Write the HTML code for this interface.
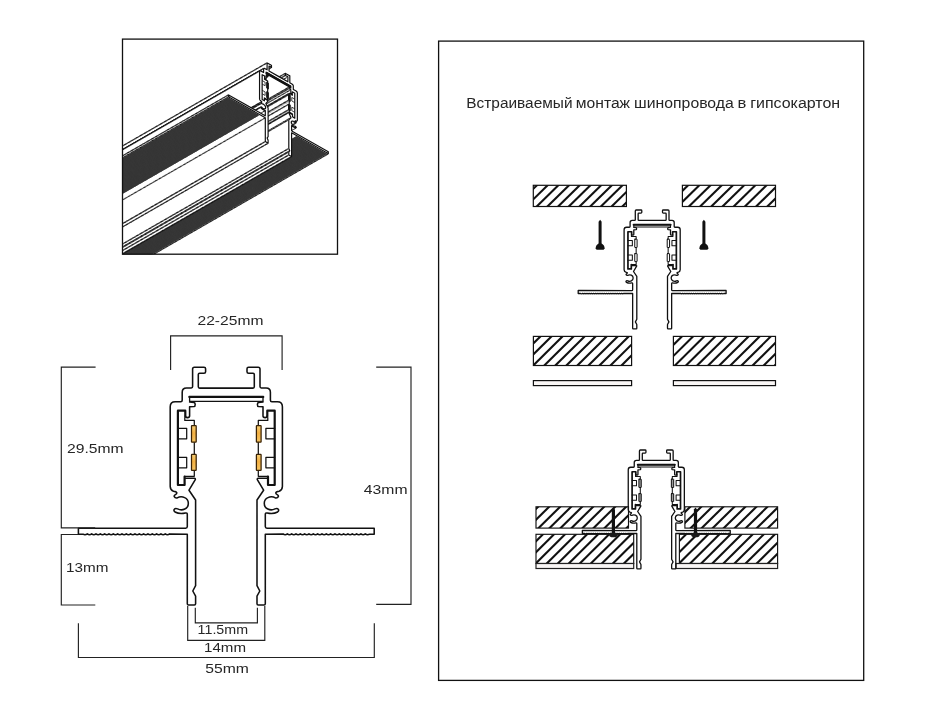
<!DOCTYPE html>
<html><head><meta charset="utf-8"><title>Profile</title>
<style>
html,body{margin:0;padding:0;background:#fff;}
svg{display:block;}
text{font-family:"Liberation Sans",sans-serif;fill:#262626;}
</style></head><body>
<svg width="925" height="720" viewBox="0 0 925 720">
<rect x="0" y="0" width="925" height="720" fill="#fff"/>
<rect x="438.6" y="41.1" width="425.1" height="639.3" fill="none" stroke="#111" stroke-width="1.3"/>
<clipPath id="isoclip"><rect x="122.5" y="39.1" width="215" height="215.1"/></clipPath>
<defs><g id="slab">
<path d="M229.15 97.23 L259.99 114.79 L258.23 115.81 L227.39 98.24Z" fill="#363636"/>
<path d="M296.92 135.84 L327.76 153.41 L326.00 154.42 L295.16 136.85Z" fill="#363636"/>
<path d="M269.02 71.00l-0.92 0.53 M269.02 66.04l-0.92 0.53 M271.48 67.44l-0.92 0.53 M271.48 65.40l-0.92 0.53 M267.10 62.90l-0.92 0.53 M267.10 69.83l-0.92 0.53 M264.24 68.36l-0.92 0.53 M263.96 68.40l-0.92 0.53 M263.76 68.57l-0.92 0.53 M263.60 72.46l-0.92 0.53 M260.30 70.77l-0.92 0.53 M259.97 70.82l-0.92 0.53 M259.74 71.01l-0.92 0.53 M261.78 102.31l-0.92 0.53 M260.76 102.27l-0.92 0.53 M261.17 103.41l-0.92 0.53 M264.89 108.41l-0.92 0.53 M261.03 106.94l-0.92 0.53 M260.90 107.00l-0.92 0.53 M260.63 107.32l-0.92 0.53 M265.31 110.59l-0.92 0.53 M265.31 115.85l-0.92 0.53 M228.61 94.91l-0.92 0.53 M228.61 96.92l-0.92 0.53 M265.31 117.83l-0.92 0.53 M265.31 141.55l-0.92 0.53 M268.11 143.14l-0.92 0.53 M268.11 140.16l-0.92 0.53 M267.17 137.91l-0.92 0.53 M268.11 136.67l-0.92 0.53 M268.11 107.96l-0.92 0.53 M265.89 103.41l-0.92 0.53 M268.01 101.07l-0.92 0.53 M268.11 100.69l-0.92 0.53 M264.40 98.58l-0.92 0.53 M264.40 100.83l-0.92 0.53 M262.15 99.54l-0.92 0.53 M262.15 74.65l-0.92 0.53 M264.64 76.07l-0.92 0.53 M264.67 78.40l-0.92 0.53 M266.09 79.21l-0.92 0.53 M266.09 75.59l-0.92 0.53 M267.98 76.56l-0.92 0.53 M267.98 75.26l-0.92 0.53 M266.09 73.98l-0.92 0.53 M266.09 72.17l-0.92 0.53 M290.82 86.27l-0.92 0.53 M290.82 88.07l-0.92 0.53 M288.94 87.20l-0.92 0.53 M288.94 88.51l-0.92 0.53 M290.82 89.68l-0.92 0.53 M290.82 93.30l-0.92 0.53 M292.24 94.11l-0.92 0.53 M292.27 91.81l-0.92 0.53 M294.77 93.24l-0.92 0.53 M294.77 118.13l-0.92 0.53 M292.51 116.84l-0.92 0.53 M292.51 114.60l-0.92 0.53 M288.80 112.48l-0.92 0.53 M291.03 117.74l-0.92 0.53 M288.80 119.75l-0.92 0.53 M288.80 148.46l-0.92 0.53 M289.75 150.78l-0.92 0.53 M288.80 151.95l-0.92 0.53 M288.80 154.93l-0.92 0.53 M291.60 156.52l-0.92 0.53 M291.60 132.80l-0.92 0.53 M328.30 153.71l-0.92 0.53 M328.30 151.70l-0.92 0.53 M291.60 130.83l-0.92 0.53 M291.60 125.57l-0.92 0.53 M296.28 127.63l-0.92 0.53 M292.02 121.55l-0.92 0.53 M295.75 123.11l-0.92 0.53 M296.15 122.43l-0.92 0.53 M295.14 121.32l-0.92 0.53 M295.14 120.98l-0.92 0.53 M295.18 120.89l-0.92 0.53 M295.28 120.84l-0.92 0.53 M296.84 121.09l-0.92 0.53 M297.05 120.97l-0.92 0.53 M293.32 89.40l-0.92 0.53 M289.81 82.78l-0.92 0.53 M289.81 75.84l-0.92 0.53 M285.43 73.34l-0.92 0.53 M285.43 75.39l-0.92 0.53 M287.89 76.79l-0.92 0.53 M287.89 81.75l-0.92 0.53 M262.15 74.65l-0.92 0.53 M264.64 76.07l-0.92 0.53 M264.47 79.22l-0.92 0.53 M267.67 81.05l-0.92 0.53 M267.67 99.77l-0.92 0.53 M264.40 97.91l-0.92 0.53 M264.40 100.83l-0.92 0.53 M262.15 99.54l-0.92 0.53 M294.77 118.13l-0.92 0.53 M292.51 116.84l-0.92 0.53 M292.51 113.93l-0.92 0.53 M289.24 112.06l-0.92 0.53 M289.24 93.34l-0.92 0.53 M292.44 95.16l-0.92 0.53 M292.27 91.81l-0.92 0.53 M294.77 93.24l-0.92 0.53 M266.09 72.17l-0.92 0.53 M290.82 86.27l-0.92 0.53 M290.82 87.84l-0.92 0.53 M266.09 73.75l-0.92 0.53 M266.73 82.25l-0.92 0.53 M268.31 83.16l-0.92 0.53 M268.31 88.72l-0.92 0.53 M266.73 87.81l-0.92 0.53 M288.60 94.71l-0.92 0.53 M290.18 95.62l-0.92 0.53 M290.18 101.18l-0.92 0.53 M288.60 100.27l-0.92 0.53 M266.73 91.90l-0.92 0.53 M268.31 92.80l-0.92 0.53 M268.31 98.16l-0.92 0.53 M266.73 97.26l-0.92 0.53 M288.60 104.36l-0.92 0.53 M290.18 105.26l-0.92 0.53 M290.18 110.62l-0.92 0.53 M288.60 109.72l-0.92 0.53" stroke="#111" stroke-width="1.30" fill="none" stroke-linecap="butt"/>
<path d="M278.46 76.37 L269.46 71.25 L269.02 71.00 L269.02 70.56 L269.02 66.44 L269.02 66.04 L269.43 66.27 L270.94 67.13 L271.48 67.44 L271.48 66.90 L271.48 65.93 L271.48 65.40 L270.94 65.09 L267.71 63.25 L267.10 62.90 L267.10 63.50 L267.10 69.40 L267.10 69.83 L266.66 69.58 L265.04 68.66 L264.60 68.45 L264.24 68.36 L263.96 68.40 L263.76 68.57 L263.64 68.86 L263.60 69.28 L263.60 71.96 L263.60 72.46 L263.09 72.17 L261.24 71.12 L260.72 70.87 L260.30 70.77 L259.97 70.82 L259.74 71.01 L259.60 71.35 L259.55 71.83 L259.55 98.56 L259.60 98.99 L259.70 99.40 L259.86 99.78 L260.08 100.14 L260.34 100.49 L260.66 100.81 L260.99 101.06 L261.27 101.28 L261.48 101.49 L261.64 101.67 L261.74 101.84 L261.78 101.98 L261.78 102.31 L261.30 102.28 L260.76 102.27 L260.93 102.74 L261.17 103.41 L261.91 103.73 L262.32 103.78 L262.75 103.91 L263.19 104.11 L263.61 104.37 L264.03 104.69 L264.41 105.06 L264.76 105.46 L265.07 105.89 L265.32 106.34 L265.51 106.79 L265.62 107.25 L265.65 107.70 L265.61 108.10 L265.50 108.41 L265.32 108.65 L265.08 108.82 L264.80 108.90 L264.47 108.92 L264.10 108.85 L263.71 108.72 L263.31 108.52 L262.89 108.24 L262.46 107.90 L262.05 107.49 L261.80 107.26 L261.57 107.09 L261.37 106.98 L261.19 106.93 L261.03 106.94 L260.90 107.00 L260.63 107.32 L261.17 108.03 L261.69 108.56 L262.23 109.03 L262.80 109.45 L263.40 109.81 L264.02 110.11 L264.67 110.36 L265.31 110.59 L265.31 111.26 L265.31 115.28 L265.31 115.85 L264.74 115.52 L228.61 94.91 L228.61 96.92 L230.16 97.80 L265.31 117.83 L265.31 141.14 L265.31 141.55 L265.72 141.78 L267.71 142.91 L268.11 143.14 L268.11 142.74 L268.11 140.16 L267.17 137.91 L268.11 136.67 L268.11 107.96 L265.89 103.41 L268.01 101.07 L268.11 100.69 L267.71 100.46 L264.74 98.77 L264.40 98.58 L264.40 100.83 L262.15 99.54 L262.15 74.65 L264.64 76.07 L264.64 77.85 L264.67 78.40 L265.38 78.80 L266.09 79.21 L266.09 78.67 L266.09 75.59 L267.57 76.37 L267.98 76.56 L267.98 75.89 L267.98 75.26 L267.57 74.96 L266.09 73.98 L266.09 72.17 L290.82 86.27 L290.82 88.07 L289.34 87.36 L288.94 87.20 L288.94 87.84 L288.94 88.51 L289.34 88.77 L290.82 89.68 L290.82 92.76 L290.82 93.30 L291.53 93.70 L292.24 94.11 L292.27 93.59 L292.27 91.81 L294.77 93.24 L294.77 118.13 L292.51 116.84 L292.51 114.60 L292.17 114.40 L289.21 112.71 L288.80 112.48 L288.90 112.98 L291.03 117.74 L288.80 119.75 L288.80 148.46 L289.75 150.78 L288.80 151.95 L288.80 154.53 L288.80 154.93 L289.21 155.16 L291.20 156.29 L291.60 156.52 L291.60 156.12 L291.60 132.80 L326.75 152.83 L328.30 153.71 L328.30 151.70 L292.17 131.15 L291.60 130.83 L291.60 130.26 L291.60 126.24 L291.60 125.57 L292.24 126.07 L292.89 126.56 L293.51 126.96 L294.11 127.28 L294.68 127.52 L295.23 127.67 L295.75 127.73 L296.28 127.63 L296.01 127.01 L295.88 126.79 L295.72 126.60 L295.54 126.45 L295.34 126.33 L295.12 126.24 L294.87 126.19 L294.45 126.13 L294.03 125.99 L293.61 125.78 L293.20 125.52 L292.81 125.21 L292.45 124.86 L292.12 124.47 L291.83 124.05 L291.59 123.62 L291.42 123.18 L291.30 122.73 L291.26 122.29 L291.29 121.88 L291.40 121.55 L291.59 121.30 L291.84 121.14 L292.15 121.06 L292.50 121.06 L292.89 121.14 L293.30 121.29 L293.73 121.51 L294.16 121.80 L294.59 122.16 L295.00 122.58 L295.75 123.11 L295.98 122.70 L296.15 122.43 L295.61 121.82 L295.14 121.32 L295.14 120.98 L295.18 120.89 L295.28 120.84 L295.43 120.83 L295.65 120.87 L295.92 120.95 L296.25 121.08 L296.57 121.13 L296.84 121.09 L297.05 120.97 L297.21 120.76 L297.31 120.48 L297.36 120.11 L297.36 93.37 L297.32 92.84 L297.18 92.34 L296.94 91.88 L296.61 91.46 L296.19 91.08 L295.68 90.74 L293.82 89.68 L293.32 89.40 L293.32 88.89 L293.32 86.21 L293.28 85.75 L293.16 85.32 L292.96 84.93 L292.67 84.57 L292.31 84.24 L291.87 83.95 L290.25 83.02 L289.81 82.78 L289.81 82.34 L289.81 76.44 L289.81 75.84 L289.21 75.50 L285.97 73.65 L285.43 73.34 L285.43 73.88 L285.43 74.85 L285.43 75.39 L285.97 75.70 L287.49 76.56 L287.89 76.79 L287.89 77.19 L287.89 81.31 L287.89 81.75 L287.45 81.50 L278.46 76.37Z M262.15 74.65 L264.64 76.07 L264.64 78.18 L264.47 79.22 L267.67 81.05 L267.67 99.77 L264.40 97.91 L264.40 100.83 L262.15 99.54Z M294.77 118.13 L292.51 116.84 L292.51 113.93 L289.24 112.06 L289.24 93.34 L292.44 95.16 L292.27 93.93 L292.27 91.81 L294.77 93.24Z M266.09 72.17 L290.82 86.27 L290.82 87.84 L266.09 73.75Z M266.73 82.25 L268.31 83.16 L268.31 88.72 L266.73 87.81Z M288.60 94.71 L290.18 95.62 L290.18 101.18 L288.60 100.27Z M266.73 91.90 L268.31 92.80 L268.31 98.16 L266.73 97.26Z M288.60 104.36 L290.18 105.26 L290.18 110.62 L288.60 109.72Z" fill="#fff"/>
</g></defs>
<g clip-path="url(#isoclip)">
<use href="#slab" x="-214.00" y="123.05"/><use href="#slab" x="-213.20" y="122.59"/><use href="#slab" x="-212.40" y="122.13"/><use href="#slab" x="-211.60" y="121.67"/><use href="#slab" x="-210.80" y="121.21"/><use href="#slab" x="-210.00" y="120.75"/><use href="#slab" x="-209.20" y="120.29"/><use href="#slab" x="-208.40" y="119.83"/><use href="#slab" x="-207.60" y="119.37"/><use href="#slab" x="-206.80" y="118.91"/><use href="#slab" x="-206.00" y="118.45"/><use href="#slab" x="-205.20" y="117.99"/><use href="#slab" x="-204.40" y="117.53"/><use href="#slab" x="-203.60" y="117.07"/><use href="#slab" x="-202.80" y="116.61"/><use href="#slab" x="-202.00" y="116.15"/><use href="#slab" x="-201.20" y="115.69"/><use href="#slab" x="-200.40" y="115.23"/><use href="#slab" x="-199.60" y="114.77"/><use href="#slab" x="-198.80" y="114.31"/><use href="#slab" x="-198.00" y="113.85"/><use href="#slab" x="-197.20" y="113.39"/><use href="#slab" x="-196.40" y="112.93"/><use href="#slab" x="-195.60" y="112.47"/><use href="#slab" x="-194.80" y="112.01"/><use href="#slab" x="-194.00" y="111.55"/><use href="#slab" x="-193.20" y="111.09"/><use href="#slab" x="-192.40" y="110.63"/><use href="#slab" x="-191.60" y="110.17"/><use href="#slab" x="-190.80" y="109.71"/><use href="#slab" x="-190.00" y="109.25"/><use href="#slab" x="-189.20" y="108.79"/><use href="#slab" x="-188.40" y="108.33"/><use href="#slab" x="-187.60" y="107.87"/><use href="#slab" x="-186.80" y="107.41"/><use href="#slab" x="-186.00" y="106.95"/><use href="#slab" x="-185.20" y="106.49"/><use href="#slab" x="-184.40" y="106.03"/><use href="#slab" x="-183.60" y="105.57"/><use href="#slab" x="-182.80" y="105.11"/><use href="#slab" x="-182.00" y="104.65"/><use href="#slab" x="-181.20" y="104.19"/><use href="#slab" x="-180.40" y="103.73"/><use href="#slab" x="-179.60" y="103.27"/><use href="#slab" x="-178.80" y="102.81"/><use href="#slab" x="-178.00" y="102.35"/><use href="#slab" x="-177.20" y="101.89"/><use href="#slab" x="-176.40" y="101.43"/><use href="#slab" x="-175.60" y="100.97"/><use href="#slab" x="-174.80" y="100.51"/><use href="#slab" x="-174.00" y="100.05"/><use href="#slab" x="-173.20" y="99.59"/><use href="#slab" x="-172.40" y="99.13"/><use href="#slab" x="-171.60" y="98.67"/><use href="#slab" x="-170.80" y="98.21"/><use href="#slab" x="-170.00" y="97.75"/><use href="#slab" x="-169.20" y="97.29"/><use href="#slab" x="-168.40" y="96.83"/><use href="#slab" x="-167.60" y="96.37"/><use href="#slab" x="-166.80" y="95.91"/><use href="#slab" x="-166.00" y="95.45"/><use href="#slab" x="-165.20" y="94.99"/><use href="#slab" x="-164.40" y="94.53"/><use href="#slab" x="-163.60" y="94.07"/><use href="#slab" x="-162.80" y="93.61"/><use href="#slab" x="-162.00" y="93.15"/><use href="#slab" x="-161.20" y="92.69"/><use href="#slab" x="-160.40" y="92.23"/><use href="#slab" x="-159.60" y="91.77"/><use href="#slab" x="-158.80" y="91.31"/><use href="#slab" x="-158.00" y="90.85"/><use href="#slab" x="-157.20" y="90.39"/><use href="#slab" x="-156.40" y="89.93"/><use href="#slab" x="-155.60" y="89.47"/><use href="#slab" x="-154.80" y="89.01"/><use href="#slab" x="-154.00" y="88.55"/><use href="#slab" x="-153.20" y="88.09"/><use href="#slab" x="-152.40" y="87.63"/><use href="#slab" x="-151.60" y="87.17"/><use href="#slab" x="-150.80" y="86.71"/><use href="#slab" x="-150.00" y="86.25"/><use href="#slab" x="-149.20" y="85.79"/><use href="#slab" x="-148.40" y="85.33"/><use href="#slab" x="-147.60" y="84.87"/><use href="#slab" x="-146.80" y="84.41"/><use href="#slab" x="-146.00" y="83.95"/><use href="#slab" x="-145.20" y="83.49"/><use href="#slab" x="-144.40" y="83.03"/><use href="#slab" x="-143.60" y="82.57"/><use href="#slab" x="-142.80" y="82.11"/><use href="#slab" x="-142.00" y="81.65"/><use href="#slab" x="-141.20" y="81.19"/><use href="#slab" x="-140.40" y="80.73"/><use href="#slab" x="-139.60" y="80.27"/><use href="#slab" x="-138.80" y="79.81"/><use href="#slab" x="-138.00" y="79.35"/><use href="#slab" x="-137.20" y="78.89"/><use href="#slab" x="-136.40" y="78.43"/><use href="#slab" x="-135.60" y="77.97"/><use href="#slab" x="-134.80" y="77.51"/><use href="#slab" x="-134.00" y="77.05"/><use href="#slab" x="-133.20" y="76.59"/><use href="#slab" x="-132.40" y="76.13"/><use href="#slab" x="-131.60" y="75.67"/><use href="#slab" x="-130.80" y="75.21"/><use href="#slab" x="-130.00" y="74.75"/><use href="#slab" x="-129.20" y="74.29"/><use href="#slab" x="-128.40" y="73.83"/><use href="#slab" x="-127.60" y="73.37"/><use href="#slab" x="-126.80" y="72.91"/><use href="#slab" x="-126.00" y="72.45"/><use href="#slab" x="-125.20" y="71.99"/><use href="#slab" x="-124.40" y="71.53"/><use href="#slab" x="-123.60" y="71.07"/><use href="#slab" x="-122.80" y="70.61"/><use href="#slab" x="-122.00" y="70.15"/><use href="#slab" x="-121.20" y="69.69"/><use href="#slab" x="-120.40" y="69.23"/><use href="#slab" x="-119.60" y="68.77"/><use href="#slab" x="-118.80" y="68.31"/><use href="#slab" x="-118.00" y="67.85"/><use href="#slab" x="-117.20" y="67.39"/><use href="#slab" x="-116.40" y="66.93"/><use href="#slab" x="-115.60" y="66.47"/><use href="#slab" x="-114.80" y="66.01"/><use href="#slab" x="-114.00" y="65.55"/><use href="#slab" x="-113.20" y="65.09"/><use href="#slab" x="-112.40" y="64.63"/><use href="#slab" x="-111.60" y="64.17"/><use href="#slab" x="-110.80" y="63.71"/><use href="#slab" x="-110.00" y="63.25"/><use href="#slab" x="-109.20" y="62.79"/><use href="#slab" x="-108.40" y="62.33"/><use href="#slab" x="-107.60" y="61.87"/><use href="#slab" x="-106.80" y="61.41"/><use href="#slab" x="-106.00" y="60.95"/><use href="#slab" x="-105.20" y="60.49"/><use href="#slab" x="-104.40" y="60.03"/><use href="#slab" x="-103.60" y="59.57"/><use href="#slab" x="-102.80" y="59.11"/><use href="#slab" x="-102.00" y="58.65"/><use href="#slab" x="-101.20" y="58.19"/><use href="#slab" x="-100.40" y="57.73"/><use href="#slab" x="-99.60" y="57.27"/><use href="#slab" x="-98.80" y="56.81"/><use href="#slab" x="-98.00" y="56.35"/><use href="#slab" x="-97.20" y="55.89"/><use href="#slab" x="-96.40" y="55.43"/><use href="#slab" x="-95.60" y="54.97"/><use href="#slab" x="-94.80" y="54.51"/><use href="#slab" x="-94.00" y="54.05"/><use href="#slab" x="-93.20" y="53.59"/><use href="#slab" x="-92.40" y="53.13"/><use href="#slab" x="-91.60" y="52.67"/><use href="#slab" x="-90.80" y="52.21"/><use href="#slab" x="-90.00" y="51.75"/><use href="#slab" x="-89.20" y="51.29"/><use href="#slab" x="-88.40" y="50.83"/><use href="#slab" x="-87.60" y="50.37"/><use href="#slab" x="-86.80" y="49.91"/><use href="#slab" x="-86.00" y="49.45"/><use href="#slab" x="-85.20" y="48.99"/><use href="#slab" x="-84.40" y="48.53"/><use href="#slab" x="-83.60" y="48.07"/><use href="#slab" x="-82.80" y="47.61"/><use href="#slab" x="-82.00" y="47.15"/><use href="#slab" x="-81.20" y="46.69"/><use href="#slab" x="-80.40" y="46.23"/><use href="#slab" x="-79.60" y="45.77"/><use href="#slab" x="-78.80" y="45.31"/><use href="#slab" x="-78.00" y="44.85"/><use href="#slab" x="-77.20" y="44.39"/><use href="#slab" x="-76.40" y="43.93"/><use href="#slab" x="-75.60" y="43.47"/><use href="#slab" x="-74.80" y="43.01"/><use href="#slab" x="-74.00" y="42.55"/><use href="#slab" x="-73.20" y="42.09"/><use href="#slab" x="-72.40" y="41.63"/><use href="#slab" x="-71.60" y="41.17"/><use href="#slab" x="-70.80" y="40.71"/><use href="#slab" x="-70.00" y="40.25"/><use href="#slab" x="-69.20" y="39.79"/><use href="#slab" x="-68.40" y="39.33"/><use href="#slab" x="-67.60" y="38.87"/><use href="#slab" x="-66.80" y="38.41"/><use href="#slab" x="-66.00" y="37.95"/><use href="#slab" x="-65.20" y="37.49"/><use href="#slab" x="-64.40" y="37.03"/><use href="#slab" x="-63.60" y="36.57"/><use href="#slab" x="-62.80" y="36.11"/><use href="#slab" x="-62.00" y="35.65"/><use href="#slab" x="-61.20" y="35.19"/><use href="#slab" x="-60.40" y="34.73"/><use href="#slab" x="-59.60" y="34.27"/><use href="#slab" x="-58.80" y="33.81"/><use href="#slab" x="-58.00" y="33.35"/><use href="#slab" x="-57.20" y="32.89"/><use href="#slab" x="-56.40" y="32.43"/><use href="#slab" x="-55.60" y="31.97"/><use href="#slab" x="-54.80" y="31.51"/><use href="#slab" x="-54.00" y="31.05"/><use href="#slab" x="-53.20" y="30.59"/><use href="#slab" x="-52.40" y="30.13"/><use href="#slab" x="-51.60" y="29.67"/><use href="#slab" x="-50.80" y="29.21"/><use href="#slab" x="-50.00" y="28.75"/><use href="#slab" x="-49.20" y="28.29"/><use href="#slab" x="-48.40" y="27.83"/><use href="#slab" x="-47.60" y="27.37"/><use href="#slab" x="-46.80" y="26.91"/><use href="#slab" x="-46.00" y="26.45"/><use href="#slab" x="-45.20" y="25.99"/><use href="#slab" x="-44.40" y="25.53"/><use href="#slab" x="-43.60" y="25.07"/><use href="#slab" x="-42.80" y="24.61"/><use href="#slab" x="-42.00" y="24.15"/><use href="#slab" x="-41.20" y="23.69"/><use href="#slab" x="-40.40" y="23.23"/><use href="#slab" x="-39.60" y="22.77"/><use href="#slab" x="-38.80" y="22.31"/><use href="#slab" x="-38.00" y="21.85"/><use href="#slab" x="-37.20" y="21.39"/><use href="#slab" x="-36.40" y="20.93"/><use href="#slab" x="-35.60" y="20.47"/><use href="#slab" x="-34.80" y="20.01"/><use href="#slab" x="-34.00" y="19.55"/><use href="#slab" x="-33.20" y="19.09"/><use href="#slab" x="-32.40" y="18.63"/><use href="#slab" x="-31.60" y="18.17"/><use href="#slab" x="-30.80" y="17.71"/><use href="#slab" x="-30.00" y="17.25"/><use href="#slab" x="-29.20" y="16.79"/><use href="#slab" x="-28.40" y="16.33"/><use href="#slab" x="-27.60" y="15.87"/><use href="#slab" x="-26.80" y="15.41"/><use href="#slab" x="-26.00" y="14.95"/><use href="#slab" x="-25.20" y="14.49"/><use href="#slab" x="-24.40" y="14.03"/><use href="#slab" x="-23.60" y="13.57"/><use href="#slab" x="-22.80" y="13.11"/><use href="#slab" x="-22.00" y="12.65"/><use href="#slab" x="-21.20" y="12.19"/><use href="#slab" x="-20.40" y="11.73"/><use href="#slab" x="-19.60" y="11.27"/><use href="#slab" x="-18.80" y="10.81"/><use href="#slab" x="-18.00" y="10.35"/><use href="#slab" x="-17.20" y="9.89"/><use href="#slab" x="-16.40" y="9.43"/><use href="#slab" x="-15.60" y="8.97"/><use href="#slab" x="-14.80" y="8.51"/><use href="#slab" x="-14.00" y="8.05"/><use href="#slab" x="-13.20" y="7.59"/><use href="#slab" x="-12.40" y="7.13"/><use href="#slab" x="-11.60" y="6.67"/><use href="#slab" x="-10.80" y="6.21"/><use href="#slab" x="-10.00" y="5.75"/><use href="#slab" x="-9.20" y="5.29"/><use href="#slab" x="-8.40" y="4.83"/><use href="#slab" x="-7.60" y="4.37"/><use href="#slab" x="-6.80" y="3.91"/><use href="#slab" x="-6.00" y="3.45"/><use href="#slab" x="-5.20" y="2.99"/><use href="#slab" x="-4.40" y="2.53"/><use href="#slab" x="-3.60" y="2.07"/><use href="#slab" x="-2.80" y="1.61"/><use href="#slab" x="-2.00" y="1.15"/><use href="#slab" x="-1.20" y="0.69"/><use href="#slab" x="-0.40" y="0.23"/>
<path d="M278.46 76.37 L269.46 71.25 L269.02 71.00 L269.02 70.56 L269.02 66.44 L269.02 66.04 L269.43 66.27 L270.94 67.13 L271.48 67.44 L271.48 66.90 L271.48 65.93 L271.48 65.40 L270.94 65.09 L267.71 63.25 L267.10 62.90 L267.10 63.50 L267.10 69.40 L267.10 69.83 L266.66 69.58 L265.04 68.66 L264.60 68.45 L264.24 68.36 L263.96 68.40 L263.76 68.57 L263.64 68.86 L263.60 69.28 L263.60 71.96 L263.60 72.46 L263.09 72.17 L261.24 71.12 L260.72 70.87 L260.30 70.77 L259.97 70.82 L259.74 71.01 L259.60 71.35 L259.55 71.83 L259.55 98.56 L259.60 98.99 L259.70 99.40 L259.86 99.78 L260.08 100.14 L260.34 100.49 L260.66 100.81 L260.99 101.06 L261.27 101.28 L261.48 101.49 L261.64 101.67 L261.74 101.84 L261.78 101.98 L261.78 102.31 L261.30 102.28 L260.76 102.27 L260.93 102.74 L261.17 103.41 L261.91 103.73 L262.32 103.78 L262.75 103.91 L263.19 104.11 L263.61 104.37 L264.03 104.69 L264.41 105.06 L264.76 105.46 L265.07 105.89 L265.32 106.34 L265.51 106.79 L265.62 107.25 L265.65 107.70 L265.61 108.10 L265.50 108.41 L265.32 108.65 L265.08 108.82 L264.80 108.90 L264.47 108.92 L264.10 108.85 L263.71 108.72 L263.31 108.52 L262.89 108.24 L262.46 107.90 L262.05 107.49 L261.80 107.26 L261.57 107.09 L261.37 106.98 L261.19 106.93 L261.03 106.94 L260.90 107.00 L260.63 107.32 L261.17 108.03 L261.69 108.56 L262.23 109.03 L262.80 109.45 L263.40 109.81 L264.02 110.11 L264.67 110.36 L265.31 110.59 L265.31 111.26 L265.31 115.28 L265.31 115.85 L264.74 115.52 L228.61 94.91 L228.61 96.92 L230.16 97.80 L265.31 117.83 L265.31 141.14 L265.31 141.55 L265.72 141.78 L267.71 142.91 L268.11 143.14 L268.11 142.74 L268.11 140.16 L267.17 137.91 L268.11 136.67 L268.11 107.96 L265.89 103.41 L268.01 101.07 L268.11 100.69 L267.71 100.46 L264.74 98.77 L264.40 98.58 L264.40 100.83 L262.15 99.54 L262.15 74.65 L264.64 76.07 L264.64 77.85 L264.67 78.40 L265.38 78.80 L266.09 79.21 L266.09 78.67 L266.09 75.59 L267.57 76.37 L267.98 76.56 L267.98 75.89 L267.98 75.26 L267.57 74.96 L266.09 73.98 L266.09 72.17 L290.82 86.27 L290.82 88.07 L289.34 87.36 L288.94 87.20 L288.94 87.84 L288.94 88.51 L289.34 88.77 L290.82 89.68 L290.82 92.76 L290.82 93.30 L291.53 93.70 L292.24 94.11 L292.27 93.59 L292.27 91.81 L294.77 93.24 L294.77 118.13 L292.51 116.84 L292.51 114.60 L292.17 114.40 L289.21 112.71 L288.80 112.48 L288.90 112.98 L291.03 117.74 L288.80 119.75 L288.80 148.46 L289.75 150.78 L288.80 151.95 L288.80 154.53 L288.80 154.93 L289.21 155.16 L291.20 156.29 L291.60 156.52 L291.60 156.12 L291.60 132.80 L326.75 152.83 L328.30 153.71 L328.30 151.70 L292.17 131.15 L291.60 130.83 L291.60 130.26 L291.60 126.24 L291.60 125.57 L292.24 126.07 L292.89 126.56 L293.51 126.96 L294.11 127.28 L294.68 127.52 L295.23 127.67 L295.75 127.73 L296.28 127.63 L296.01 127.01 L295.88 126.79 L295.72 126.60 L295.54 126.45 L295.34 126.33 L295.12 126.24 L294.87 126.19 L294.45 126.13 L294.03 125.99 L293.61 125.78 L293.20 125.52 L292.81 125.21 L292.45 124.86 L292.12 124.47 L291.83 124.05 L291.59 123.62 L291.42 123.18 L291.30 122.73 L291.26 122.29 L291.29 121.88 L291.40 121.55 L291.59 121.30 L291.84 121.14 L292.15 121.06 L292.50 121.06 L292.89 121.14 L293.30 121.29 L293.73 121.51 L294.16 121.80 L294.59 122.16 L295.00 122.58 L295.75 123.11 L295.98 122.70 L296.15 122.43 L295.61 121.82 L295.14 121.32 L295.14 120.98 L295.18 120.89 L295.28 120.84 L295.43 120.83 L295.65 120.87 L295.92 120.95 L296.25 121.08 L296.57 121.13 L296.84 121.09 L297.05 120.97 L297.21 120.76 L297.31 120.48 L297.36 120.11 L297.36 93.37 L297.32 92.84 L297.18 92.34 L296.94 91.88 L296.61 91.46 L296.19 91.08 L295.68 90.74 L293.82 89.68 L293.32 89.40 L293.32 88.89 L293.32 86.21 L293.28 85.75 L293.16 85.32 L292.96 84.93 L292.67 84.57 L292.31 84.24 L291.87 83.95 L290.25 83.02 L289.81 82.78 L289.81 82.34 L289.81 76.44 L289.81 75.84 L289.21 75.50 L285.97 73.65 L285.43 73.34 L285.43 73.88 L285.43 74.85 L285.43 75.39 L285.97 75.70 L287.49 76.56 L287.89 76.79 L287.89 77.19 L287.89 81.31 L287.89 81.75 L287.45 81.50 L278.46 76.37Z M262.15 74.65 L264.64 76.07 L264.64 78.18 L264.47 79.22 L267.67 81.05 L267.67 99.77 L264.40 97.91 L264.40 100.83 L262.15 99.54Z M294.77 118.13 L292.51 116.84 L292.51 113.93 L289.24 112.06 L289.24 93.34 L292.44 95.16 L292.27 93.93 L292.27 91.81 L294.77 93.24Z M266.09 72.17 L290.82 86.27 L290.82 87.84 L266.09 73.75Z M266.73 82.25 L268.31 83.16 L268.31 88.72 L266.73 87.81Z M288.60 94.71 L290.18 95.62 L290.18 101.18 L288.60 100.27Z M266.73 91.90 L268.31 92.80 L268.31 98.16 L266.73 97.26Z M288.60 104.36 L290.18 105.26 L290.18 110.62 L288.60 109.72Z" fill="#fff" stroke="#111" stroke-width="1.2" stroke-linejoin="round"/>
<path d="M266.16 72.55 L290.76 86.56" stroke="#111" stroke-width="2.0" fill="none"/>
<path d="M262.15 80.55 L265.11 82.24 L265.11 85.75 L262.15 84.06 M294.77 99.13 L291.80 97.44 L291.80 100.96 L294.77 102.65 M262.15 90.26 L265.11 91.95 L265.11 95.47 L262.15 93.78 M294.77 108.85 L291.80 107.16 L291.80 110.67 L294.77 112.36" fill="none" stroke="#111" stroke-width="0.8"/>
</g>
<path d="M330.2 153.9 L160.0 254.4 L150 256 L150 258 Z" fill="#fff" clip-path="url(#isoclip)"/>
<rect x="122.5" y="39.1" width="215" height="215.1" fill="none" stroke="#111" stroke-width="1.3"/>
<defs><linearGradient id="cg" x1="0" y1="0" x2="0" y2="1"><stop offset="0" stop-color="#f7d077"/><stop offset="0.45" stop-color="#f3b042"/><stop offset="1" stop-color="#f6c562"/></linearGradient></defs>
<g transform="translate(226.30 367.20) scale(1.000) translate(-226.30 -367.20)" fill="none" stroke="#111" stroke-linejoin="round" stroke-linecap="round">
<path d="M226.3 388.1 L199.6 388.1 Q198.3 388.1 198.3 386.8 L198.3 374.5 Q198.3 373.3 199.5 373.3 L204 373.3 Q205.6 373.3 205.6 371.7 L205.6 368.8 Q205.6 367.2 204 367.2 L194.4 367.2 Q192.6 367.2 192.6 369 L192.6 386.6 Q192.6 387.9 191.3 387.9 L186.5 387.9 Q182.2 387.9 182.2 392.2 L182.2 400.2 Q182.2 401.7 180.7 401.7 L175.2 401.7 Q170.2 401.7 170.2 406.7 L170.2 486.5 Q170.4 490.3 173.5 491.3 Q176.7 491.8 176.8 492.9 Q176.8 493.9 175.4 494.6 Q173.8 495.5 174.3 496.6 Q175 498.2 177.2 497.9 C182 495.2 188.5 498 188.3 503.4 C188.3 508.6 182.5 511.4 177.6 508.9 Q175.3 507.9 174.2 509.4 Q173.4 510.8 175 512 Q179.5 514.4 185.4 513 Q187.3 512.6 187.3 514.6 L187.3 526.6 Q187.3 528.3 185.6 528.3 L78.4 528.2 L78.4 534.2 L83 534.2 Q85.16 535.5 87.33 533.9 Q89.49 535.5 91.66 533.9 Q93.82 535.5 95.99 533.9 Q98.15 535.5 100.32 533.9 Q102.48 535.5 104.65 533.9 Q106.81 535.5 108.98 533.9 Q111.14 535.5 113.31 533.9 Q115.47 535.5 117.64 533.9 Q119.8 535.5 121.97 533.9 Q124.13 535.5 126.3 533.9 Q128.46 535.5 130.63 533.9 Q132.79 535.5 134.96 533.9 Q137.12 535.5 139.29 533.9 Q141.45 535.5 143.62 533.9 Q145.78 535.5 147.95 533.9 Q150.11 535.5 152.28 533.9 Q154.44 535.5 156.61 533.9 Q158.77 535.5 160.94 533.9 Q163.1 535.5 165.27 533.9 Q167.43 535.5 169.6 533.9 L187.3 534.2 L187.3 603.8 Q187.3 605 188.5 605 L194.4 605 Q195.6 605 195.6 603.8 L195.6 596.1 L192.8 591 L195.6 585.7 L195.6 500 L189 490.2 L195.3 479.6 Q195.6 478.3 194.4 478.3 L185.6 478.3 M226.3 388.1 L253 388.1 Q254.3 388.1 254.3 386.8 L254.3 374.5 Q254.3 373.3 253.1 373.3 L248.6 373.3 Q247 373.3 247 371.7 L247 368.8 Q247 367.2 248.6 367.2 L258.2 367.2 Q260 367.2 260 369 L260 386.6 Q260 387.9 261.3 387.9 L266.1 387.9 Q270.4 387.9 270.4 392.2 L270.4 400.2 Q270.4 401.7 271.9 401.7 L277.4 401.7 Q282.4 401.7 282.4 406.7 L282.4 486.5 Q282.2 490.3 279.1 491.3 Q275.9 491.8 275.8 492.9 Q275.8 493.9 277.2 494.6 Q278.8 495.5 278.3 496.6 Q277.6 498.2 275.4 497.9 C270.6 495.2 264.1 498 264.3 503.4 C264.3 508.6 270.1 511.4 275 508.9 Q277.3 507.9 278.4 509.4 Q279.2 510.8 277.6 512 Q273.1 514.4 267.2 513 Q265.3 512.6 265.3 514.6 L265.3 526.6 Q265.3 528.3 267 528.3 L374.2 528.2 L374.2 534.2 L369.6 534.2 Q367.44 535.5 365.27 533.9 Q363.11 535.5 360.94 533.9 Q358.78 535.5 356.61 533.9 Q354.45 535.5 352.28 533.9 Q350.12 535.5 347.95 533.9 Q345.79 535.5 343.62 533.9 Q341.46 535.5 339.29 533.9 Q337.13 535.5 334.96 533.9 Q332.8 535.5 330.63 533.9 Q328.47 535.5 326.3 533.9 Q324.14 535.5 321.97 533.9 Q319.81 535.5 317.64 533.9 Q315.48 535.5 313.31 533.9 Q311.15 535.5 308.98 533.9 Q306.82 535.5 304.65 533.9 Q302.49 535.5 300.32 533.9 Q298.16 535.5 295.99 533.9 Q293.83 535.5 291.66 533.9 Q289.5 535.5 287.33 533.9 Q285.17 535.5 283 533.9 L265.3 534.2 L265.3 603.8 Q265.3 605 264.1 605 L258.2 605 Q257 605 257 603.8 L257 596.1 L259.8 591 L257 585.7 L257 500 L263.6 490.2 L257.3 479.6 Q257 478.3 258.2 478.3 L267 478.3" stroke-width="1.55"/>
<path d="M189.6 402 L194 402.4 Q195.2 402.6 195.2 404.5 Q195.2 406.5 194 406.6 L189.6 406.8 L189.6 416 Q189.6 417.6 187.5 417.6 Q185.4 417.6 185.4 416 M263 402 L258.6 402.4 Q257.4 402.6 257.4 404.5 Q257.4 406.5 258.6 406.6 L263 406.8 L263 416 Q263 417.6 265.1 417.6 Q267.2 417.6 267.2 416" stroke-width="1.55"/>
<path d="M185.3 416.6 L185.3 410.7 L177.9 410.7 L177.9 485 L184.6 485 L184.6 476.6 M267.3 416.6 L267.3 410.7 L274.7 410.7 L274.7 485 L268 485 L268 476.6" stroke-width="2.20"/>
<path d="M184.8 417.5 L184.8 420.4 L194.3 420.4 L194.3 476.3 L184.6 476.3 M177.9 428.3 L186.7 428.3 L186.7 438.8 L177.9 438.8 M177.9 457.3 L186.7 457.3 L186.7 467.8 L177.9 467.8 M267.8 417.5 L267.8 420.4 L258.3 420.4 L258.3 476.3 L268 476.3 M274.7 428.3 L265.9 428.3 L265.9 438.8 L274.7 438.8 M274.7 457.3 L265.9 457.3 L265.9 467.8 L274.7 467.8" stroke-width="1.24"/>
<rect x="189.6" y="396.6" width="73.40" height="4.7" stroke-width="1.32" fill="#fff"/>
<path d="M189.3 396.9 L263.30 396.9" stroke-width="2.10" stroke-linecap="round"/>
<rect x="191.50" y="425.60" width="4.70" height="16.60" rx="0.5" fill="url(#cg)" stroke="#3a2306" stroke-width="1.25"/>
<rect x="256.40" y="425.60" width="4.70" height="16.60" rx="0.5" fill="url(#cg)" stroke="#3a2306" stroke-width="1.25"/>
<rect x="191.50" y="454.40" width="4.70" height="16.00" rx="0.5" fill="url(#cg)" stroke="#3a2306" stroke-width="1.25"/>
<rect x="256.40" y="454.40" width="4.70" height="16.00" rx="0.5" fill="url(#cg)" stroke="#3a2306" stroke-width="1.25"/>
</g>
<path d="M170.6 370 L170.6 335.9 L282.1 335.9 L282.1 370" stroke="#222" stroke-width="1.15" fill="none"/>
<path d="M95.6 367.1 L61.3 367.1 L61.3 527.8 L95.2 527.8" stroke="#222" stroke-width="1.15" fill="none"/>
<path d="M78.3 534.5 L61.3 534.5 L61.3 605 L95.3 605" stroke="#222" stroke-width="1.15" fill="none"/>
<path d="M376.2 367.1 L411.0 367.1 L411.0 604.4 L376.2 604.4" stroke="#222" stroke-width="1.15" fill="none"/>
<path d="M78.4 623.2 L78.4 657.5 L374.3 657.5 L374.3 623.2" stroke="#222" stroke-width="1.15" fill="none"/>
<path d="M187.7 606 L187.7 640.3 L264.8 640.3 L264.8 606" stroke="#222" stroke-width="1.15" fill="none"/>
<path d="M195.3 607.8 L195.3 622.8 L257.4 622.8 L257.4 607.8" stroke="#222" stroke-width="1.15" fill="none"/>
<g style="filter:grayscale(1)">
<text x="197.50" y="325.40" textLength="65.90" lengthAdjust="spacingAndGlyphs" font-size="13.50">22-25mm</text>
<text x="67.00" y="452.60" textLength="56.60" lengthAdjust="spacingAndGlyphs" font-size="13.50">29.5mm</text>
<text x="66.00" y="571.60" textLength="42.40" lengthAdjust="spacingAndGlyphs" font-size="13.50">13mm</text>
<text x="363.80" y="494.30" textLength="43.70" lengthAdjust="spacingAndGlyphs" font-size="13.50">43mm</text>
<text x="197.60" y="634.40" textLength="50.40" lengthAdjust="spacingAndGlyphs" font-size="13.50">11.5mm</text>
<text x="204.00" y="651.50" textLength="42.00" lengthAdjust="spacingAndGlyphs" font-size="13.50">14mm</text>
<text x="205.20" y="672.90" textLength="43.60" lengthAdjust="spacingAndGlyphs" font-size="13.50">55mm</text>
<text x="466.30" y="108.40" textLength="106.20" lengthAdjust="spacingAndGlyphs" font-size="14.00">Встраиваемый</text>
<text x="575.80" y="108.40" textLength="54.30" lengthAdjust="spacingAndGlyphs" font-size="14.00">монтаж</text>
<text x="634.10" y="108.40" textLength="99.70" lengthAdjust="spacingAndGlyphs" font-size="14.00">шинопровода</text>
<text x="737.60" y="108.40" textLength="8.80" lengthAdjust="spacingAndGlyphs" font-size="14.00">в</text>
<text x="750.20" y="108.40" textLength="90.00" lengthAdjust="spacingAndGlyphs" font-size="14.00">гипсокартон</text>
</g>
<clipPath id="h1"><rect x="533.30" y="185.30" width="93.10" height="21.20"/></clipPath>
<rect x="533.30" y="185.30" width="93.10" height="21.20" fill="#fff" stroke="none"/>
<g clip-path="url(#h1)" stroke="#111" stroke-width="2.10">
<path d="M541.22 181.06 L510.98 210.74"/>
<path d="M551.92 181.06 L521.68 210.74"/>
<path d="M562.62 181.06 L532.38 210.74"/>
<path d="M573.32 181.06 L543.08 210.74"/>
<path d="M584.02 181.06 L553.78 210.74"/>
<path d="M594.72 181.06 L564.48 210.74"/>
<path d="M605.42 181.06 L575.18 210.74"/>
<path d="M616.12 181.06 L585.88 210.74"/>
<path d="M626.82 181.06 L596.58 210.74"/>
<path d="M637.52 181.06 L607.28 210.74"/>
<path d="M648.22 181.06 L617.98 210.74"/>
<path d="M658.92 181.06 L628.68 210.74"/>
</g>
<rect x="533.30" y="185.30" width="93.10" height="21.20" fill="none" stroke="#111" stroke-width="1.20"/>
<clipPath id="h2"><rect x="682.40" y="185.30" width="93.10" height="21.20"/></clipPath>
<rect x="682.40" y="185.30" width="93.10" height="21.20" fill="#fff" stroke="none"/>
<g clip-path="url(#h2)" stroke="#111" stroke-width="2.10">
<path d="M681.22 181.06 L650.98 210.74"/>
<path d="M692.42 181.06 L662.18 210.74"/>
<path d="M703.62 181.06 L673.38 210.74"/>
<path d="M714.82 181.06 L684.58 210.74"/>
<path d="M726.02 181.06 L695.78 210.74"/>
<path d="M737.22 181.06 L706.98 210.74"/>
<path d="M748.42 181.06 L718.18 210.74"/>
<path d="M759.62 181.06 L729.38 210.74"/>
<path d="M770.82 181.06 L740.58 210.74"/>
<path d="M782.02 181.06 L751.78 210.74"/>
<path d="M793.22 181.06 L762.98 210.74"/>
<path d="M804.42 181.06 L774.18 210.74"/>
</g>
<rect x="682.40" y="185.30" width="93.10" height="21.20" fill="none" stroke="#111" stroke-width="1.20"/>
<clipPath id="h3"><rect x="533.40" y="336.40" width="98.20" height="29.10"/></clipPath>
<rect x="533.40" y="336.40" width="98.20" height="29.10" fill="#fff" stroke="none"/>
<g clip-path="url(#h3)" stroke="#111" stroke-width="2.10">
<path d="M535.33 330.58 L494.31 371.32"/>
<path d="M546.36 330.58 L505.34 371.32"/>
<path d="M557.39 330.58 L516.37 371.32"/>
<path d="M568.42 330.58 L527.40 371.32"/>
<path d="M579.45 330.58 L538.43 371.32"/>
<path d="M590.48 330.58 L549.46 371.32"/>
<path d="M601.51 330.58 L560.49 371.32"/>
<path d="M612.54 330.58 L571.52 371.32"/>
<path d="M623.57 330.58 L582.55 371.32"/>
<path d="M634.60 330.58 L593.58 371.32"/>
<path d="M645.63 330.58 L604.61 371.32"/>
<path d="M656.66 330.58 L615.64 371.32"/>
<path d="M667.69 330.58 L626.67 371.32"/>
<path d="M678.72 330.58 L637.70 371.32"/>
</g>
<rect x="533.40" y="336.40" width="98.20" height="29.10" fill="none" stroke="#111" stroke-width="1.20"/>
<clipPath id="h4"><rect x="673.40" y="336.40" width="102.10" height="29.10"/></clipPath>
<rect x="673.40" y="336.40" width="102.10" height="29.10" fill="#fff" stroke="none"/>
<g clip-path="url(#h4)" stroke="#111" stroke-width="2.10">
<path d="M687.86 330.58 L646.84 371.32"/>
<path d="M698.96 330.58 L657.94 371.32"/>
<path d="M710.06 330.58 L669.04 371.32"/>
<path d="M721.16 330.58 L680.14 371.32"/>
<path d="M732.26 330.58 L691.24 371.32"/>
<path d="M743.36 330.58 L702.34 371.32"/>
<path d="M754.46 330.58 L713.44 371.32"/>
<path d="M765.56 330.58 L724.54 371.32"/>
<path d="M776.66 330.58 L735.64 371.32"/>
<path d="M787.76 330.58 L746.74 371.32"/>
<path d="M798.86 330.58 L757.84 371.32"/>
<path d="M809.96 330.58 L768.94 371.32"/>
<path d="M821.06 330.58 L780.04 371.32"/>
</g>
<rect x="673.40" y="336.40" width="102.10" height="29.10" fill="none" stroke="#111" stroke-width="1.20"/>
<rect x="533.4" y="380.6" width="98.2" height="5" fill="#f9f6f5" stroke="#111" stroke-width="1.2"/>
<rect x="673.4" y="380.6" width="102.1" height="5" fill="#f9f6f5" stroke="#111" stroke-width="1.2"/>
<g transform="translate(652.15 210.00) scale(0.500) translate(-226.30 -367.20)" fill="none" stroke="#111" stroke-linejoin="round" stroke-linecap="round">
<path d="M226.3 388.1 L199.6 388.1 Q198.3 388.1 198.3 386.8 L198.3 374.5 Q198.3 373.3 199.5 373.3 L204 373.3 Q205.6 373.3 205.6 371.7 L205.6 368.8 Q205.6 367.2 204 367.2 L194.4 367.2 Q192.6 367.2 192.6 369 L192.6 386.6 Q192.6 387.9 191.3 387.9 L186.5 387.9 Q182.2 387.9 182.2 392.2 L182.2 400.2 Q182.2 401.7 180.7 401.7 L175.2 401.7 Q170.2 401.7 170.2 406.7 L170.2 486.5 Q170.4 490.3 173.5 491.3 Q176.7 491.8 176.8 492.9 Q176.8 493.9 175.4 494.6 Q173.8 495.5 174.3 496.6 Q175 498.2 177.2 497.9 C182 495.2 188.5 498 188.3 503.4 C188.3 508.6 182.5 511.4 177.6 508.9 Q175.3 507.9 174.2 509.4 Q173.4 510.8 175 512 Q179.5 514.4 185.4 513 Q187.3 512.6 187.3 514.6 L187.3 526.6 Q187.3 528.3 185.6 528.3 L78.4 528.2 L78.4 534.2 L83 534.2 Q85.16 535.5 87.33 533.9 Q89.49 535.5 91.66 533.9 Q93.82 535.5 95.99 533.9 Q98.15 535.5 100.32 533.9 Q102.48 535.5 104.65 533.9 Q106.81 535.5 108.98 533.9 Q111.14 535.5 113.31 533.9 Q115.47 535.5 117.64 533.9 Q119.8 535.5 121.97 533.9 Q124.13 535.5 126.3 533.9 Q128.46 535.5 130.63 533.9 Q132.79 535.5 134.96 533.9 Q137.12 535.5 139.29 533.9 Q141.45 535.5 143.62 533.9 Q145.78 535.5 147.95 533.9 Q150.11 535.5 152.28 533.9 Q154.44 535.5 156.61 533.9 Q158.77 535.5 160.94 533.9 Q163.1 535.5 165.27 533.9 Q167.43 535.5 169.6 533.9 L187.3 534.2 L187.3 603.8 Q187.3 605 188.5 605 L194.4 605 Q195.6 605 195.6 603.8 L195.6 596.1 L192.8 591 L195.6 585.7 L195.6 500 L189 490.2 L195.3 479.6 Q195.6 478.3 194.4 478.3 L185.6 478.3 M226.3 388.1 L253 388.1 Q254.3 388.1 254.3 386.8 L254.3 374.5 Q254.3 373.3 253.1 373.3 L248.6 373.3 Q247 373.3 247 371.7 L247 368.8 Q247 367.2 248.6 367.2 L258.2 367.2 Q260 367.2 260 369 L260 386.6 Q260 387.9 261.3 387.9 L266.1 387.9 Q270.4 387.9 270.4 392.2 L270.4 400.2 Q270.4 401.7 271.9 401.7 L277.4 401.7 Q282.4 401.7 282.4 406.7 L282.4 486.5 Q282.2 490.3 279.1 491.3 Q275.9 491.8 275.8 492.9 Q275.8 493.9 277.2 494.6 Q278.8 495.5 278.3 496.6 Q277.6 498.2 275.4 497.9 C270.6 495.2 264.1 498 264.3 503.4 C264.3 508.6 270.1 511.4 275 508.9 Q277.3 507.9 278.4 509.4 Q279.2 510.8 277.6 512 Q273.1 514.4 267.2 513 Q265.3 512.6 265.3 514.6 L265.3 526.6 Q265.3 528.3 267 528.3 L374.2 528.2 L374.2 534.2 L369.6 534.2 Q367.44 535.5 365.27 533.9 Q363.11 535.5 360.94 533.9 Q358.78 535.5 356.61 533.9 Q354.45 535.5 352.28 533.9 Q350.12 535.5 347.95 533.9 Q345.79 535.5 343.62 533.9 Q341.46 535.5 339.29 533.9 Q337.13 535.5 334.96 533.9 Q332.8 535.5 330.63 533.9 Q328.47 535.5 326.3 533.9 Q324.14 535.5 321.97 533.9 Q319.81 535.5 317.64 533.9 Q315.48 535.5 313.31 533.9 Q311.15 535.5 308.98 533.9 Q306.82 535.5 304.65 533.9 Q302.49 535.5 300.32 533.9 Q298.16 535.5 295.99 533.9 Q293.83 535.5 291.66 533.9 Q289.5 535.5 287.33 533.9 Q285.17 535.5 283 533.9 L265.3 534.2 L265.3 603.8 Q265.3 605 264.1 605 L258.2 605 Q257 605 257 603.8 L257 596.1 L259.8 591 L257 585.7 L257 500 L263.6 490.2 L257.3 479.6 Q257 478.3 258.2 478.3 L267 478.3" stroke-width="2.60"/>
<path d="M189.6 402 L194 402.4 Q195.2 402.6 195.2 404.5 Q195.2 406.5 194 406.6 L189.6 406.8 L189.6 416 Q189.6 417.6 187.5 417.6 Q185.4 417.6 185.4 416 M263 402 L258.6 402.4 Q257.4 402.6 257.4 404.5 Q257.4 406.5 258.6 406.6 L263 406.8 L263 416 Q263 417.6 265.1 417.6 Q267.2 417.6 267.2 416" stroke-width="2.60"/>
<path d="M185.3 416.6 L185.3 410.7 L177.9 410.7 L177.9 485 L184.6 485 L184.6 476.6 M267.3 416.6 L267.3 410.7 L274.7 410.7 L274.7 485 L268 485 L268 476.6" stroke-width="3.40"/>
<path d="M184.8 417.5 L184.8 420.4 L194.3 420.4 L194.3 476.3 L184.6 476.3 M177.9 428.3 L186.7 428.3 L186.7 438.8 L177.9 438.8 M177.9 457.3 L186.7 457.3 L186.7 467.8 L177.9 467.8 M267.8 417.5 L267.8 420.4 L258.3 420.4 L258.3 476.3 L268 476.3 M274.7 428.3 L265.9 428.3 L265.9 438.8 L274.7 438.8 M274.7 457.3 L265.9 457.3 L265.9 467.8 L274.7 467.8" stroke-width="2.08"/>
<rect x="189.6" y="396.6" width="73.40" height="4.7" stroke-width="2.21" fill="#fff"/>
<path d="M189.3 396.9 L263.30 396.9" stroke-width="4.00" stroke-linecap="round"/>
<rect x="191.50" y="425.60" width="4.70" height="16.60" rx="0.5" fill="#fff" stroke="#111" stroke-width="2.00"/>
<rect x="256.40" y="425.60" width="4.70" height="16.60" rx="0.5" fill="#fff" stroke="#111" stroke-width="2.00"/>
<rect x="191.50" y="454.40" width="4.70" height="16.00" rx="0.5" fill="#fff" stroke="#111" stroke-width="2.00"/>
<rect x="256.40" y="454.40" width="4.70" height="16.00" rx="0.5" fill="#fff" stroke="#111" stroke-width="2.00"/>
</g>
<path d="M600.10 219.80 L601.60 221.70 L601.60 244.50 L598.60 244.50 L598.60 221.70 Z" fill="#111"/><path d="M598.60 243.50 Q595.60 245.00 595.60 248.50 L596.60 249.70 Q600.10 250.00 603.60 249.70 L604.60 248.50 Q604.60 245.00 601.60 243.50 Z" fill="#111"/>
<path d="M703.90 219.80 L705.40 221.70 L705.40 244.50 L702.40 244.50 L702.40 221.70 Z" fill="#111"/><path d="M702.40 243.50 Q699.40 245.00 699.40 248.50 L700.40 249.70 Q703.90 250.00 707.40 249.70 L708.40 248.50 Q708.40 245.00 705.40 243.50 Z" fill="#111"/>
<clipPath id="h5"><rect x="536.00" y="506.80" width="92.50" height="21.30"/></clipPath>
<rect x="536.00" y="506.80" width="92.50" height="21.30" fill="#fff" stroke="none"/>
<g clip-path="url(#h5)" stroke="#111" stroke-width="2.10">
<path d="M542.42 502.54 L512.18 532.36"/>
<path d="M553.42 502.54 L523.18 532.36"/>
<path d="M564.42 502.54 L534.18 532.36"/>
<path d="M575.42 502.54 L545.18 532.36"/>
<path d="M586.42 502.54 L556.18 532.36"/>
<path d="M597.42 502.54 L567.18 532.36"/>
<path d="M608.42 502.54 L578.18 532.36"/>
<path d="M619.42 502.54 L589.18 532.36"/>
<path d="M630.42 502.54 L600.18 532.36"/>
<path d="M641.42 502.54 L611.18 532.36"/>
<path d="M652.42 502.54 L622.18 532.36"/>
<path d="M663.42 502.54 L633.18 532.36"/>
</g>
<rect x="536.00" y="506.80" width="92.50" height="21.30" fill="none" stroke="#111" stroke-width="1.15"/>
<clipPath id="h6"><rect x="684.90" y="506.80" width="92.70" height="21.30"/></clipPath>
<rect x="684.90" y="506.80" width="92.70" height="21.30" fill="#fff" stroke="none"/>
<g clip-path="url(#h6)" stroke="#111" stroke-width="2.10">
<path d="M683.49 502.54 L653.25 532.36"/>
<path d="M694.52 502.54 L664.28 532.36"/>
<path d="M705.55 502.54 L675.31 532.36"/>
<path d="M716.58 502.54 L686.34 532.36"/>
<path d="M727.61 502.54 L697.37 532.36"/>
<path d="M738.64 502.54 L708.40 532.36"/>
<path d="M749.67 502.54 L719.43 532.36"/>
<path d="M760.70 502.54 L730.46 532.36"/>
<path d="M771.73 502.54 L741.49 532.36"/>
<path d="M782.76 502.54 L752.52 532.36"/>
<path d="M793.79 502.54 L763.55 532.36"/>
<path d="M804.82 502.54 L774.58 532.36"/>
<path d="M815.85 502.54 L785.61 532.36"/>
</g>
<rect x="684.90" y="506.80" width="92.70" height="21.30" fill="none" stroke="#111" stroke-width="1.15"/>
<clipPath id="h7"><rect x="536.00" y="534.30" width="97.70" height="29.20"/></clipPath>
<rect x="536.00" y="534.30" width="97.70" height="29.20" fill="#fff" stroke="none"/>
<g clip-path="url(#h7)" stroke="#111" stroke-width="2.10">
<path d="M537.84 528.46 L496.82 569.34"/>
<path d="M548.86 528.46 L507.84 569.34"/>
<path d="M559.88 528.46 L518.86 569.34"/>
<path d="M570.90 528.46 L529.88 569.34"/>
<path d="M581.92 528.46 L540.90 569.34"/>
<path d="M592.94 528.46 L551.92 569.34"/>
<path d="M603.96 528.46 L562.94 569.34"/>
<path d="M614.98 528.46 L573.96 569.34"/>
<path d="M626.00 528.46 L584.98 569.34"/>
<path d="M637.02 528.46 L596.00 569.34"/>
<path d="M648.04 528.46 L607.02 569.34"/>
<path d="M659.06 528.46 L618.04 569.34"/>
<path d="M670.08 528.46 L629.06 569.34"/>
<path d="M681.10 528.46 L640.08 569.34"/>
</g>
<rect x="536.00" y="534.30" width="97.70" height="29.20" fill="none" stroke="#111" stroke-width="1.15"/>
<clipPath id="h8"><rect x="679.40" y="534.30" width="98.20" height="29.20"/></clipPath>
<rect x="679.40" y="534.30" width="98.20" height="29.20" fill="#fff" stroke="none"/>
<g clip-path="url(#h8)" stroke="#111" stroke-width="2.10">
<path d="M680.86 528.46 L639.84 569.34"/>
<path d="M691.96 528.46 L650.94 569.34"/>
<path d="M703.06 528.46 L662.04 569.34"/>
<path d="M714.16 528.46 L673.14 569.34"/>
<path d="M725.26 528.46 L684.24 569.34"/>
<path d="M736.36 528.46 L695.34 569.34"/>
<path d="M747.46 528.46 L706.44 569.34"/>
<path d="M758.56 528.46 L717.54 569.34"/>
<path d="M769.66 528.46 L728.64 569.34"/>
<path d="M780.76 528.46 L739.74 569.34"/>
<path d="M791.86 528.46 L750.84 569.34"/>
<path d="M802.96 528.46 L761.94 569.34"/>
<path d="M814.06 528.46 L773.04 569.34"/>
<path d="M825.16 528.46 L784.14 569.34"/>
</g>
<rect x="679.40" y="534.30" width="98.20" height="29.20" fill="none" stroke="#111" stroke-width="1.15"/>
<rect x="536.0" y="563.5" width="97.7" height="5.0" fill="#f9f6f5" stroke="#222" stroke-width="1.2"/>
<rect x="676.0" y="563.5" width="101.6" height="5.0" fill="#f9f6f5" stroke="#222" stroke-width="1.2"/>
<g transform="translate(656.30 450.00) scale(0.500) translate(-226.30 -367.20)" fill="none" stroke="#111" stroke-linejoin="round" stroke-linecap="round">
<path d="M226.3 388.1 L199.6 388.1 Q198.3 388.1 198.3 386.8 L198.3 374.5 Q198.3 373.3 199.5 373.3 L204 373.3 Q205.6 373.3 205.6 371.7 L205.6 368.8 Q205.6 367.2 204 367.2 L194.4 367.2 Q192.6 367.2 192.6 369 L192.6 386.6 Q192.6 387.9 191.3 387.9 L186.5 387.9 Q182.2 387.9 182.2 392.2 L182.2 400.2 Q182.2 401.7 180.7 401.7 L175.2 401.7 Q170.2 401.7 170.2 406.7 L170.2 486.5 Q170.4 490.3 173.5 491.3 Q176.7 491.8 176.8 492.9 Q176.8 493.9 175.4 494.6 Q173.8 495.5 174.3 496.6 Q175 498.2 177.2 497.9 C182 495.2 188.5 498 188.3 503.4 C188.3 508.6 182.5 511.4 177.6 508.9 Q175.3 507.9 174.2 509.4 Q173.4 510.8 175 512 Q179.5 514.4 185.4 513 Q187.3 512.6 187.3 514.6 L187.3 526.6 Q187.3 528.3 185.6 528.3 L78.4 528.2 L78.4 534.2 L83 534.2 Q85.16 535.5 87.33 533.9 Q89.49 535.5 91.66 533.9 Q93.82 535.5 95.99 533.9 Q98.15 535.5 100.32 533.9 Q102.48 535.5 104.65 533.9 Q106.81 535.5 108.98 533.9 Q111.14 535.5 113.31 533.9 Q115.47 535.5 117.64 533.9 Q119.8 535.5 121.97 533.9 Q124.13 535.5 126.3 533.9 Q128.46 535.5 130.63 533.9 Q132.79 535.5 134.96 533.9 Q137.12 535.5 139.29 533.9 Q141.45 535.5 143.62 533.9 Q145.78 535.5 147.95 533.9 Q150.11 535.5 152.28 533.9 Q154.44 535.5 156.61 533.9 Q158.77 535.5 160.94 533.9 Q163.1 535.5 165.27 533.9 Q167.43 535.5 169.6 533.9 L187.3 534.2 L187.3 603.8 Q187.3 605 188.5 605 L194.4 605 Q195.6 605 195.6 603.8 L195.6 596.1 L192.8 591 L195.6 585.7 L195.6 500 L189 490.2 L195.3 479.6 Q195.6 478.3 194.4 478.3 L185.6 478.3 M226.3 388.1 L253 388.1 Q254.3 388.1 254.3 386.8 L254.3 374.5 Q254.3 373.3 253.1 373.3 L248.6 373.3 Q247 373.3 247 371.7 L247 368.8 Q247 367.2 248.6 367.2 L258.2 367.2 Q260 367.2 260 369 L260 386.6 Q260 387.9 261.3 387.9 L266.1 387.9 Q270.4 387.9 270.4 392.2 L270.4 400.2 Q270.4 401.7 271.9 401.7 L277.4 401.7 Q282.4 401.7 282.4 406.7 L282.4 486.5 Q282.2 490.3 279.1 491.3 Q275.9 491.8 275.8 492.9 Q275.8 493.9 277.2 494.6 Q278.8 495.5 278.3 496.6 Q277.6 498.2 275.4 497.9 C270.6 495.2 264.1 498 264.3 503.4 C264.3 508.6 270.1 511.4 275 508.9 Q277.3 507.9 278.4 509.4 Q279.2 510.8 277.6 512 Q273.1 514.4 267.2 513 Q265.3 512.6 265.3 514.6 L265.3 526.6 Q265.3 528.3 267 528.3 L374.2 528.2 L374.2 534.2 L369.6 534.2 Q367.44 535.5 365.27 533.9 Q363.11 535.5 360.94 533.9 Q358.78 535.5 356.61 533.9 Q354.45 535.5 352.28 533.9 Q350.12 535.5 347.95 533.9 Q345.79 535.5 343.62 533.9 Q341.46 535.5 339.29 533.9 Q337.13 535.5 334.96 533.9 Q332.8 535.5 330.63 533.9 Q328.47 535.5 326.3 533.9 Q324.14 535.5 321.97 533.9 Q319.81 535.5 317.64 533.9 Q315.48 535.5 313.31 533.9 Q311.15 535.5 308.98 533.9 Q306.82 535.5 304.65 533.9 Q302.49 535.5 300.32 533.9 Q298.16 535.5 295.99 533.9 Q293.83 535.5 291.66 533.9 Q289.5 535.5 287.33 533.9 Q285.17 535.5 283 533.9 L265.3 534.2 L265.3 603.8 Q265.3 605 264.1 605 L258.2 605 Q257 605 257 603.8 L257 596.1 L259.8 591 L257 585.7 L257 500 L263.6 490.2 L257.3 479.6 Q257 478.3 258.2 478.3 L267 478.3" stroke-width="2.60"/>
<path d="M189.6 402 L194 402.4 Q195.2 402.6 195.2 404.5 Q195.2 406.5 194 406.6 L189.6 406.8 L189.6 416 Q189.6 417.6 187.5 417.6 Q185.4 417.6 185.4 416 M263 402 L258.6 402.4 Q257.4 402.6 257.4 404.5 Q257.4 406.5 258.6 406.6 L263 406.8 L263 416 Q263 417.6 265.1 417.6 Q267.2 417.6 267.2 416" stroke-width="2.60"/>
<path d="M185.3 416.6 L185.3 410.7 L177.9 410.7 L177.9 485 L184.6 485 L184.6 476.6 M267.3 416.6 L267.3 410.7 L274.7 410.7 L274.7 485 L268 485 L268 476.6" stroke-width="3.40"/>
<path d="M184.8 417.5 L184.8 420.4 L194.3 420.4 L194.3 476.3 L184.6 476.3 M177.9 428.3 L186.7 428.3 L186.7 438.8 L177.9 438.8 M177.9 457.3 L186.7 457.3 L186.7 467.8 L177.9 467.8 M267.8 417.5 L267.8 420.4 L258.3 420.4 L258.3 476.3 L268 476.3 M274.7 428.3 L265.9 428.3 L265.9 438.8 L274.7 438.8 M274.7 457.3 L265.9 457.3 L265.9 467.8 L274.7 467.8" stroke-width="2.08"/>
<rect x="189.6" y="396.6" width="73.40" height="4.7" stroke-width="2.21" fill="#fff"/>
<path d="M189.3 396.9 L263.30 396.9" stroke-width="4.00" stroke-linecap="round"/>
<rect x="191.50" y="425.60" width="4.70" height="16.60" rx="0.5" fill="#999" stroke="#111" stroke-width="2.00"/>
<rect x="256.40" y="425.60" width="4.70" height="16.60" rx="0.5" fill="#999" stroke="#111" stroke-width="2.00"/>
<rect x="191.50" y="454.40" width="4.70" height="16.00" rx="0.5" fill="#999" stroke="#111" stroke-width="2.00"/>
<rect x="256.40" y="454.40" width="4.70" height="16.00" rx="0.5" fill="#999" stroke="#111" stroke-width="2.00"/>
</g>
<path d="M613.40 507.40 L615.00 509.50 L615.00 534.90 L611.80 534.90 L611.80 509.50 Z" fill="#111"/><ellipse cx="613.40" cy="534.90" rx="4.3" ry="2.4" fill="#1a1a1a"/>
<path d="M695.50 507.40 L697.10 509.50 L697.10 534.90 L693.90 534.90 L693.90 509.50 Z" fill="#111"/><ellipse cx="695.50" cy="534.90" rx="4.3" ry="2.4" fill="#1a1a1a"/>
</svg></body></html>
